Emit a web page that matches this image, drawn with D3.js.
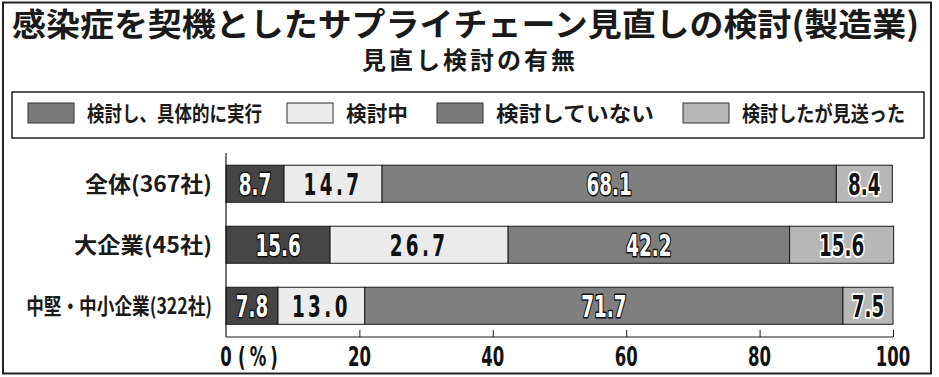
<!DOCTYPE html>
<html>
<head>
<meta charset="utf-8">
<script src="https://cdn.jsdelivr.net/npm/d3@7"></script>
<style>
  body { margin: 0; background: #fff; }
  svg { display: block; }
  .jp { font-family: "Noto Sans CJK JP", "Noto Sans", sans-serif; font-weight: 700; fill: #1a1a1a; }
  .num { font-family: "DejaVu Sans Condensed", "DejaVu Sans", sans-serif; font-weight: 700; }
</style>
</head>
<body>
<div id="chart"></div>
<script>
  const title = "感染症を契機としたサプライチェーン見直しの検討(製造業)";
  const subtitle = "見直し検討の有無";
  const categories = ["全体(367社)", "大企業(45社)", "中堅・中小企業(322社)"];
  const seriesNames = ["検討し、具体的に実行", "検討中", "検討していない", "検討したが見送った"];
  const acted = [8.7, 15.6, 7.8];
  const reviewing = [14.7, 26.7, 13.0];
  const notReviewed = [68.1, 42.2, 71.7];
  const postponed = [8.4, 15.6, 7.5];
  const tickValues = [0, 20, 40, 60, 80, 100];

  const width = 939, height = 377;
  const fills = ["#454545", "#ebebeb", "#7f7f7f", "#b7b7b7"];
  const legendFills = ["#7a7a7a", "#ebebeb", "#7a7a7a", "#b7b7b7"];
  // label style per series: white with dark outline / plain / black with white halo
  const labelStyle = ["outline", "plain", "outline", "halo"];

  const series = [acted, reviewing, notReviewed, postponed];
  const rows = categories.map((c, i) => {
    let x0 = 0;
    return {
      name: c,
      segs: series.map((s, k) => {
        const seg = { k, v: s[i], x0, x1: x0 + s[i] };
        x0 += s[i];
        return seg;
      })
    };
  });

  const svg = d3.select("#chart").append("svg")
    .attr("width", width).attr("height", height);

  // outer frame
  svg.append("rect")
    .attr("x", 3).attr("y", 2.5).attr("width", 928).attr("height", 371)
    .attr("fill", "none").attr("stroke", "#222").attr("stroke-width", 2);

  svg.append("text").attr("class", "jp")
    .attr("x", 12).attr("y", 36)
    .attr("font-size", 32)
    .attr("textLength", 907).attr("lengthAdjust", "spacingAndGlyphs")
    .text(title);

  svg.append("text").attr("class", "jp")
    .attr("x", 470).attr("y", 69)
    .attr("text-anchor", "middle")
    .attr("font-size", 24)
    .attr("letter-spacing", 3)
    .text(subtitle);

  // legend
  const legend = svg.append("g");
  legend.append("rect")
    .attr("x", 12).attr("y", 92).attr("width", 912).attr("height", 46)
    .attr("fill", "none").attr("stroke", "#222").attr("stroke-width", 1.5);

  const legendX = [28, 287, 437, 683];
  const legendTextW = [175, 62, 158, 163];
  const items = legend.selectAll("g.item").data(seriesNames).join("g")
    .attr("class", "item")
    .attr("transform", (d, i) => `translate(${legendX[i]},103)`);
  items.append("rect")
    .attr("width", 46).attr("height", 20)
    .attr("fill", (d, i) => legendFills[i])
    .attr("stroke", "#333").attr("stroke-width", 1);
  items.append("text").attr("class", "jp")
    .attr("x", 59).attr("y", 18)
    .attr("font-size", 21)
    .attr("textLength", (d, i) => legendTextW[i]).attr("lengthAdjust", "spacingAndGlyphs")
    .text(d => d);

  // chart
  const x = d3.scaleLinear().domain([0, 100]).range([226, 893]);
  const y = d3.scaleBand().domain(categories).range([153, 336.5])
    .paddingInner(0.393).paddingOuter(0.2);

  const g = svg.append("g");
  const bar = g.selectAll("g.row").data(rows).join("g")
    .attr("class", "row")
    .attr("transform", d => `translate(0,${y(d.name)})`);

  bar.selectAll("rect").data(d => d.segs).join("rect")
    .attr("x", d => x(d.x0))
    .attr("width", d => x(d.x1) - x(d.x0))
    .attr("height", y.bandwidth())
    .attr("fill", d => fills[d.k])
    .attr("stroke", "#1a1a1a").attr("stroke-width", 1);

  const sx = 0.68;
  bar.selectAll("g.lab").data(d => d.segs).join("g")
    .attr("class", "lab")
    .attr("transform", d => `translate(${(x(d.x0) + x(d.x1)) / 2},${y.bandwidth() / 2 + 11}) scale(${sx},1)`)
    .append("text")
    .attr("class", "num")
    .attr("text-anchor", "middle")
    .attr("font-size", 30)
    .attr("letter-spacing", d => labelStyle[d.k] === "plain" ? 5 : 0)
    .attr("fill", d => labelStyle[d.k] === "outline" ? "#fff" : "#111")
    .attr("stroke", d => labelStyle[d.k] === "outline" ? "#111" : labelStyle[d.k] === "halo" ? "#fff" : "none")
    .attr("stroke-width", d => labelStyle[d.k] === "outline" ? 3 : 4)
    .attr("stroke-linejoin", "round")
    .style("paint-order", "stroke")
    .text(d => d.v.toFixed(1));

  // category labels, squeezed horizontally to the reference widths
  const catW = [127, 138, 186];
  const cat = g.selectAll("g.cat").data(categories).join("g")
    .attr("class", "cat");
  cat.append("text")
    .attr("class", "jp")
    .attr("text-anchor", "end")
    .attr("font-size", 22)
    .text(d => d);
  cat.attr("transform", function (d, i) {
    const w = this.querySelector("text").getComputedTextLength();
    return `translate(212,${y(d) + y.bandwidth() / 2 + 8}) scale(${catW[i] / w},1)`;
  });

  // axes
  const axisY = 337;
  g.append("line")
    .attr("x1", x(0)).attr("x2", x(0)).attr("y1", 153).attr("y2", axisY)
    .attr("stroke", "#1a1a1a").attr("stroke-width", 1.2);
  const ax = g.append("g").attr("transform", `translate(0,${axisY})`)
    .call(d3.axisTop(x).tickValues(tickValues.slice(1)).tickSize(7).tickFormat(""));
  ax.select(".domain").attr("d", `M${x(0)},0H${x(100)}`).attr("stroke", "#1a1a1a").attr("stroke-width", 1.2);
  ax.selectAll(".tick line").attr("stroke", "#1a1a1a");

  g.selectAll("g.tl").data(tickValues).join("g")
    .attr("class", "tl")
    .attr("transform", d => `translate(${x(d)},366) scale(${sx},1)`)
    .append("text")
    .attr("class", "num")
    .attr("text-anchor", "middle")
    .attr("font-size", 27)
    .attr("fill", "#111")
    .text(d => d);

  g.append("g")
    .attr("transform", `translate(${x(0) + 12},366) scale(${sx},1)`)
    .append("text")
    .attr("class", "num")
    .attr("font-size", 27)
    .attr("fill", "#111")
    .attr("letter-spacing", 6)
    .text("(%)");
</script>
</body>
</html>
